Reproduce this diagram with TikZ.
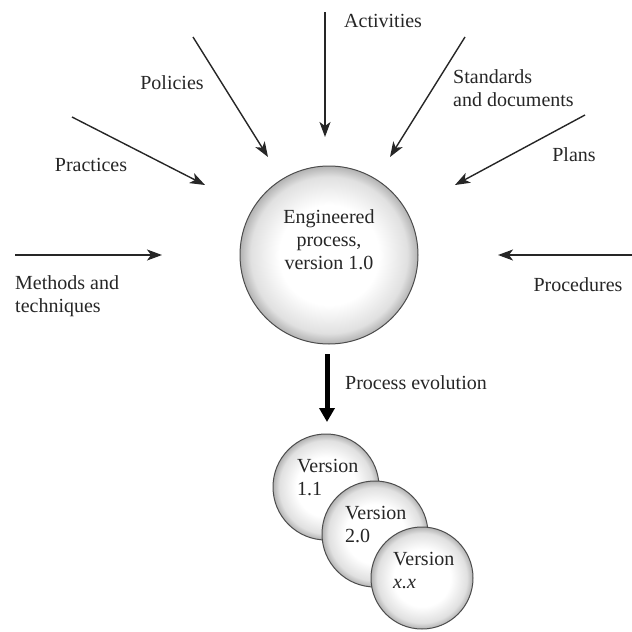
\documentclass[tikz,border=0pt]{standalone}
\usepackage{fontspec}
\setmainfont{Liberation Serif}
\usetikzlibrary{arrows.meta}
\pgfdeclareradialshading{bubbleshade}{\pgfpoint{0bp}{0bp}}{color(0bp)=(white); color(14bp)=(white); color(22bp)=(black!12); color(25bp)=(black!30); color(50bp)=(black!30)}
\begin{document}
\begin{tikzpicture}[x=1pt,y=-1pt,
  lbl/.style={font=\fontsize{20}{23}\selectfont, inner sep=0pt, text=black!85},
  inarrow/.style={draw=black!85, line width=1.4pt, -{Stealth[length=15pt,width=11pt,inset=4pt]}},
  bigarrow/.style={draw=black, line width=5pt, -{Triangle[length=14pt,width=15pt]}},
  bubble/.style={circle, draw=black!70, line width=1pt, shading=bubbleshade}]
\useasboundingbox (0,0) rectangle (632,632);
% main circle
\node[bubble, minimum size=178pt] (main) at (329,255) {};
\node[lbl, align=center] (maintxt) at (329,240) {Engineered\\process,\\version 1.0};
% incoming arrows
\coordinate (actS) at (325,12);  \coordinate (actE) at (325,137);
\coordinate (polS) at (193,37);  \coordinate (polE) at (268,157);
\coordinate (praS) at (72,117);  \coordinate (praE) at (205,185);
\coordinate (staS) at (465,37);  \coordinate (staE) at (390,157);
\coordinate (plaS) at (585,115); \coordinate (plaE) at (455,185);
\coordinate (metS) at (15,255);  \coordinate (metE) at (162,255);
\coordinate (proS) at (632,255); \coordinate (proE) at (498,255);
\draw[inarrow] (actS) -- (actE);
\draw[inarrow] (polS) -- (polE);
\draw[inarrow] (praS) -- (praE);
\draw[inarrow] (staS) -- (staE);
\draw[inarrow] (plaS) -- (plaE);
\draw[inarrow] (metS) -- (metE);
\draw[inarrow] (proS) -- (proE);
% labels
\node[lbl, anchor=west] (act) at (344,21) {Activities};
\node[lbl] (pol) at (172,83) {Policies};
\node[lbl] (pra) at (91,165) {Practices};
\node[lbl, anchor=west, align=left] (sta) at (453,88) {Standards\\and documents};
\node[lbl] (pla) at (574,155) {Plans};
\node[lbl, anchor=west, align=left] (met) at (15,296) {Methods and\\techniques};
\node[lbl] (pro) at (578,285) {Procedures};
% evolution
\coordinate (evS) at (327,354); \coordinate (evE) at (327,422);
\draw[bigarrow] (evS) -- (evE);
\node[lbl, anchor=west] (evo) at (345,383) {Process evolution};
% version circles
\node[bubble, minimum size=106pt] (v1) at (326,487) {};
\node[lbl, anchor=west, align=left] (v1t) at (297,478) {Version\\1.1};
\node[bubble, minimum size=106pt] (v2) at (375,534) {};
\node[lbl, anchor=west, align=left] (v2t) at (345,525) {Version\\2.0};
\node[bubble, minimum size=102pt] (v3) at (422,578) {};
\node[lbl, anchor=west, align=left] (v3t) at (393,571) {Version\\\textit{x.x}};
\end{tikzpicture}
\end{document}
